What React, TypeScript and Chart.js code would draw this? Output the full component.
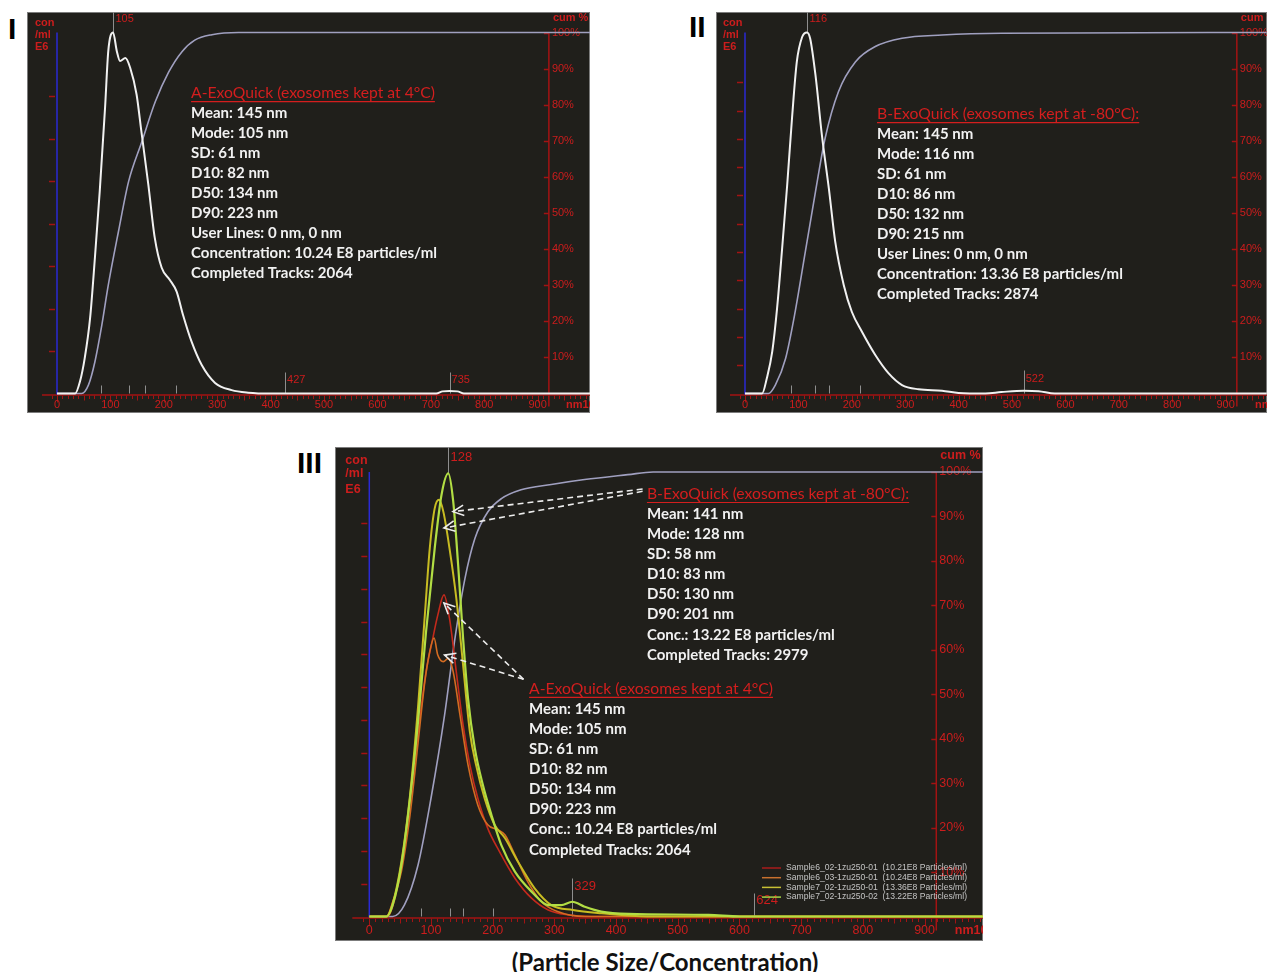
import React, { useEffect, useRef } from "react";
import { Chart, registerables } from "chart.js";

Chart.register(...registerables);

// ---------------- DATA ----------------
const sizeTickValues = [0, 100, 200, 300, 400, 500, 600, 700, 800, 900];
const sizeTickLabels = ["0", "100", "200", "300", "400", "500", "600", "700", "800", "900"];
const cumTickValues = [10, 20, 30, 40, 50, 60, 70, 80, 90, 100];
const cumTickLabels = ["10%", "20%", "30%", "40%", "50%", "60%", "70%", "80%", "90%", "100%"];

// Panel I  (A-ExoQuick, 4°C)
const p1Size = [0, 34, 43, 52, 62, 71, 80, 90, 96, 105, 112, 118, 128, 137, 149, 158, 171, 183, 196, 211, 224, 236, 252, 271, 296, 327, 358, 400, 710, 722, 735, 750, 762, 800, 998];
const p1Conc = [0, 0, 0.28, 0.84, 1.78, 3.2, 4.76, 6.73, 8.06, 8.5, 8.06, 7.83, 7.9, 7.67, 7.04, 6.17, 4.92, 3.67, 2.96, 2.68, 2.4, 1.85, 1.22, 0.67, 0.25, 0.08, 0.02, 0, 0, 0.05, 0.06, 0.05, 0, 0, 0];
const p1CumSize = [0, 46, 59, 71, 84, 96, 115, 134, 159, 184, 209, 234, 258, 290, 340, 998];
const p1Cum = [0, 0, 2.4, 8.8, 19, 30, 44.8, 58.7, 69.8, 80.8, 89, 94.7, 97.9, 99.4, 100, 100];
const p1Mode = 105;
const p1Peaks = [427, 735];
const p1StatMarks = [82, 134, 164, 223];
const p1Header = "A-ExoQuick (exosomes kept at 4°C)";
const p1Lines = ["Mean: 145 nm", "Mode: 105 nm", "SD: 61 nm", "D10: 82 nm", "D50: 134 nm", "D90: 223 nm", "User Lines: 0 nm, 0 nm", "Concentration: 10.24 E8 particles/ml", "Completed Tracks: 2064"];

// Panel II (B-ExoQuick, -80°C)
const p2Size = [0, 32, 41, 51, 60, 69, 79, 88, 97, 107, 116, 122, 132, 144, 157, 169, 185, 200, 219, 244, 269, 294, 325, 369, 400, 450, 480, 522, 550, 580, 977];
const p2Conc = [0, 0, 0.55, 1.48, 3.0, 5.0, 7.37, 9.72, 11.72, 12.6, 12.76, 12.55, 11.25, 9.13, 7.25, 5.36, 3.83, 2.89, 2.18, 1.36, 0.71, 0.3, 0.15, 0.1, 0.02, 0, 0.05, 0.1, 0.08, 0, 0];
const p2CumSize = [0, 44, 57, 76, 94, 113, 132, 150, 175, 207, 244, 294, 369, 481, 977];
const p2Cum = [0, 0, 2.4, 9.7, 22.7, 39.3, 55.9, 70.7, 83.6, 91.9, 96.1, 98.4, 99.3, 99.8, 100];
const p2Mode = 116;
const p2Peaks = [522];
const p2StatMarks = [86, 132, 157, 215];
const p2Header = "B-ExoQuick (exosomes kept at -80°C):";
const p2Lines = ["Mean: 145 nm", "Mode: 116 nm", "SD: 61 nm", "D10: 86 nm", "D50: 132 nm", "D90: 215 nm", "User Lines: 0 nm, 0 nm", "Concentration: 13.36 E8 particles/ml", "Completed Tracks: 2874"];

// Panel III (overlay of four samples)
const p3RedSize = [0, 30, 40, 52, 66, 79, 92, 103, 111, 121, 130, 141, 152, 163, 176, 192, 211, 236, 263, 290, 322, 360, 995];
const p3Red = [0, 0, 0.45, 1.57, 3.5, 5.6, 7.47, 8.5, 9.2, 9.82, 9.1, 7.47, 5.85, 4.63, 3.6, 2.69, 1.98, 1.17, 0.56, 0.2, 0.05, 0, 0];
const p3OrangeSize = [0, 28, 38, 52, 66, 79, 90, 98, 105, 111, 120, 128, 136, 147, 160, 176, 192, 209, 220, 236, 257, 279, 305, 350, 995];
const p3Orange = [0, 0, 0.45, 1.37, 3.1, 5.3, 7.17, 8.09, 8.5, 7.98, 7.78, 7.88, 7.47, 6.15, 4.63, 3.4, 2.8, 2.64, 2.49, 1.88, 1.06, 0.45, 0.15, 0, 0];
const p3YellowSize = [0, 28, 38, 52, 66, 79, 90, 98, 106, 113, 120, 130, 141, 152, 163, 173, 187, 203, 220, 241, 268, 295, 330, 376, 450, 995];
const p3Yellow = [0, 0, 0.4, 1.67, 3.7, 6.4, 9.2, 11.24, 12.46, 12.72, 12.36, 11.24, 9.72, 7.68, 5.64, 4.63, 3.6, 2.8, 2.39, 1.67, 0.86, 0.35, 0.2, 0.1, 0, 0];
const p3GreenSize = [0, 28, 38, 52, 66, 79, 92, 106, 117, 128, 136, 144, 152, 160, 171, 184, 198, 214, 236, 263, 290, 311, 329, 349, 376, 420, 550, 600, 995];
const p3Green = [0, 0, 0.35, 1.57, 3.6, 5.95, 8.7, 11.24, 12.87, 13.53, 12.67, 10.73, 8.5, 6.66, 5.14, 4.02, 3.1, 2.18, 1.37, 0.76, 0.35, 0.35, 0.45, 0.3, 0.15, 0.08, 0.05, 0, 0];
const p3CumSize = [0, 38, 57, 79, 100, 122, 138, 155, 171, 192, 214, 246, 295, 349, 419, 460, 995];
const p3Cum = [0, 0, 2.6, 11.6, 26.6, 45.3, 61.8, 76, 85, 91, 94, 96, 97.2, 98.3, 99.4, 100, 100];
const p3SeriesLabels = [
  "Sample6_02-1zu250-01  (10.21E8 Particles/ml)",
  "Sample6_03-1zu250-01  (10.24E8 Particles/ml)",
  "Sample7_02-1zu250-01  (13.36E8 Particles/ml)",
  "Sample7_02-1zu250-02  (13.22E8 Particles/ml)",
];
const p3Mode = 128;
const p3Peaks = [329, 624];
const p3StatMarks = [83, 130, 152, 201];
const p3HeaderB = "B-ExoQuick (exosomes kept at -80°C):";
const p3LinesB = ["Mean: 141 nm", "Mode: 128 nm", "SD: 58 nm", "D10: 83 nm", "D50: 130 nm", "D90: 201 nm", "Conc.: 13.22 E8 particles/ml", "Completed Tracks: 2979"];
const p3HeaderA = "A-ExoQuick (exosomes kept at 4°C)";
const p3LinesA = ["Mean: 145 nm", "Mode: 105 nm", "SD: 61 nm", "D10: 82 nm", "D50: 134 nm", "D90: 223 nm", "Conc.: 10.24 E8 particles/ml", "Completed Tracks: 2064"];

// ---------------- STYLE ----------------
const BG = "#201f1b";
const RED = "#cc1d1d";
const RED_AXIS = "#a31313";
const HEADER_RED = "#d41e1e";
const BLUE = "#2a2ad4";
const GRAY = "#8e8e8e";
const WHITE = "#f1f1f1";
const CUM = "#a0a0c0";
const AXIS_FONT = '"Liberation Sans", Arial, sans-serif';
const TEXT_FONT = 'Lato, "Open Sans", sans-serif';

const pts = (xs: number[], ys: number[]) => xs.map((x, i) => ({ x, y: ys[i] }));
const maxOf = (a: number[]) => Math.max(...a);

// ---------------- PLUGIN ----------------
function makeDecor(spec: any) {
  return {
    id: "decor_" + spec.id,
    beforeDraw(chart: any) {
      const { ctx, width, height } = chart;
      ctx.save();
      ctx.fillStyle = BG;
      ctx.fillRect(0, 0, width, height);
      ctx.strokeStyle = "#7c7c7c";
      ctx.lineWidth = 1;
      ctx.strokeRect(0.5, 0.5, width - 1, height - 1);
      ctx.restore();
    },
    beforeDatasetsDraw(chart: any) {
      const { ctx, width } = chart;
      const sx = chart.scales.x;
      const sy = chart.scales.y;
      const sc = chart.scales.yCum;
      const base = sy.getPixelForValue(0);
      const x0 = sx.getPixelForValue(0);
      const top = sc.getPixelForValue(100);
      const af = spec.axisFont;
      ctx.save();

      // red size-axis baseline with ticks
      ctx.strokeStyle = RED_AXIS;
      ctx.lineWidth = 1.5;
      ctx.beginPath();
      ctx.moveTo(x0 - spec.baseExt, base + 1.5);
      ctx.lineTo(width, base + 1.5);
      ctx.stroke();
      ctx.lineWidth = 1;
      ctx.beginPath();
      for (let v = -10; v <= sx.max; v += 10) {
        const px = Math.round(sx.getPixelForValue(v)) + 0.5;
        const len = v % 100 === 0 ? 7 : v % 50 === 0 ? 5 : 3.5;
        ctx.moveTo(px, base + 2);
        ctx.lineTo(px, base + 2 + len);
      }
      ctx.stroke();

      ctx.fillStyle = RED;
      ctx.font = `${af}px ${AXIS_FONT}`;
      ctx.textAlign = "center";
      ctx.textBaseline = "middle";
      sizeTickValues.forEach((v, i) => ctx.fillText(sizeTickLabels[i], sx.getPixelForValue(v), base + spec.xLabelDy));
      ctx.font = `bold ${af}px ${AXIS_FONT}`;
      ctx.textAlign = "left";
      ctx.fillText(spec.unitLabel, sx.getPixelForValue(spec.unitAt), base + spec.xLabelDy);

      // left concentration axis
      ctx.strokeStyle = BLUE;
      ctx.lineWidth = 1.5;
      ctx.beginPath();
      ctx.moveTo(x0, top);
      ctx.lineTo(x0, base + 1);
      ctx.stroke();
      ctx.strokeStyle = RED_AXIS;
      ctx.beginPath();
      for (let k = 1; k <= spec.concTicks; k++) {
        const y = Math.round(sy.getPixelForValue(k)) + 0.5;
        ctx.moveTo(x0 - 8, y);
        ctx.lineTo(x0 - 2, y);
      }
      ctx.stroke();
      ctx.fillStyle = RED;
      ctx.font = `bold ${spec.conFont}px ${AXIS_FONT}`;
      ctx.textAlign = "left";
      spec.conLabels.forEach((c: any) => ctx.fillText(c.t, x0 - spec.conDx, top + c.dy));

      // right cumulative axis
      const xr = sx.getPixelForValue(spec.cumAxisAt);
      ctx.strokeStyle = RED_AXIS;
      ctx.lineWidth = 1.5;
      ctx.beginPath();
      ctx.moveTo(xr, top);
      ctx.lineTo(xr, base + spec.cumAxisExt);
      for (const v of cumTickValues) {
        const y = Math.round(sc.getPixelForValue(v)) + 0.5;
        ctx.moveTo(xr - 5, y);
        ctx.lineTo(xr, y);
      }
      ctx.stroke();
      ctx.font = `${af}px ${AXIS_FONT}`;
      cumTickValues.forEach((v, i) => ctx.fillText(cumTickLabels[i], xr + 3, sc.getPixelForValue(v)));
      ctx.font = `bold ${af}px ${AXIS_FONT}`;
      ctx.fillText("cum %", xr + 4, top + spec.cumTitleDy);

      // small statistic marks on baseline
      ctx.strokeStyle = GRAY;
      ctx.lineWidth = 1;
      ctx.beginPath();
      spec.statMarks.forEach((v: number) => {
        const px = Math.round(sx.getPixelForValue(v)) + 0.5;
        ctx.moveTo(px, base - 8);
        ctx.lineTo(px, base);
      });
      // mode line
      const mx = Math.round(sx.getPixelForValue(spec.mode)) + 0.5;
      ctx.moveTo(mx, 0);
      ctx.lineTo(mx, sy.getPixelForValue(spec.modePeak));
      // peak markers
      spec.peaks.forEach((p: any) => {
        const px = Math.round(sx.getPixelForValue(p.v)) + 0.5;
        ctx.moveTo(px, base - p.h);
        ctx.lineTo(px, base);
      });
      ctx.stroke();
      ctx.fillStyle = RED;
      ctx.font = `${spec.markFont}px ${AXIS_FONT}`;
      ctx.fillText(String(spec.mode), mx + 2, spec.modeLabelY);
      spec.peaks.forEach((p: any) => ctx.fillText(String(p.v), sx.getPixelForValue(p.v) + 2, base + p.ly));
      ctx.restore();
    },
    afterDatasetsDraw(chart: any) {
      const { ctx } = chart;
      const sx = chart.scales.x;
      const sy = chart.scales.y;
      const sc = chart.scales.yCum;
      ctx.save();
      // arrows
      (spec.arrows || []).forEach((a: any) => {
        const fx = sx.getPixelForValue(a.from[0]);
        const fy = sy.getPixelForValue(a.from[1]);
        const tx = sx.getPixelForValue(a.to[0]);
        const ty = sy.getPixelForValue(a.to[1]);
        ctx.strokeStyle = "#ececec";
        ctx.lineWidth = 1.6;
        ctx.setLineDash([6, 4]);
        ctx.beginPath();
        ctx.moveTo(fx, fy);
        ctx.lineTo(tx, ty);
        ctx.stroke();
        ctx.setLineDash([]);
        const ang = Math.atan2(fy - ty, fx - tx);
        ctx.beginPath();
        ctx.moveTo(tx + 12 * Math.cos(ang + 0.45), ty + 12 * Math.sin(ang + 0.45));
        ctx.lineTo(tx, ty);
        ctx.lineTo(tx + 12 * Math.cos(ang - 0.45), ty + 12 * Math.sin(ang - 0.45));
        ctx.stroke();
      });
      // text blocks
      ctx.textAlign = "left";
      ctx.textBaseline = "middle";
      spec.texts.forEach((tb: any) => {
        const tx = sx.getPixelForValue(tb.atX);
        const ty = sc.getPixelForValue(tb.atCum);
        ctx.font = `${spec.headerSize}px ${TEXT_FONT}`;
        ctx.fillStyle = HEADER_RED;
        ctx.fillText(tb.header, tx, ty);
        const w = ctx.measureText(tb.header).width;
        ctx.strokeStyle = HEADER_RED;
        ctx.lineWidth = 1.2;
        ctx.beginPath();
        ctx.moveTo(tx, ty + 8.5);
        ctx.lineTo(tx + w, ty + 8.5);
        ctx.stroke();
        ctx.font = `bold ${spec.textSize}px ${TEXT_FONT}`;
        ctx.fillStyle = WHITE;
        tb.lines.forEach((l: string, i: number) => ctx.fillText(l, tx, ty + (i + 1) * spec.lineGap));
      });
      // legend
      if (spec.legend) {
        const L = spec.legend;
        ctx.font = `${L.font}px ${AXIS_FONT}`;
        ctx.fillStyle = "#c4c4c4";
        let row = 0;
        chart.data.datasets.forEach((ds: any) => {
          if (!ds.legendLabel) return;
          const y = L.y + row * L.dy;
          ctx.strokeStyle = ds.legendColor || ds.borderColor;
          ctx.lineWidth = 1.5;
          ctx.beginPath();
          ctx.moveTo(L.x, y);
          ctx.lineTo(L.x + L.len, y);
          ctx.stroke();
          ctx.fillText(ds.legendLabel, L.x + L.len + L.gap, y);
          row++;
        });
      }
      ctx.restore();
    },
  };
}

// ---------------- PANELS ----------------
const conSmall = [
  { t: "con", dy: -9.5 },
  { t: "/ml", dy: 2.5 },
  { t: "E6", dy: 14 },
];

const panelI = {
  id: "I",
  left: 27, top: 12, width: 563, height: 401,
  pad: { left: 30, top: 20.5, right: 0, bottom: 19.5 },
  xMax: 998, concMax: 8.5, concTicks: 7, cumAxisAt: 921,
  axisFont: 11, xLabelDy: 11.5, unitLabel: "nm1000", unitAt: 953, baseExt: 15,
  conFont: 11, conDx: 22, conLabels: conSmall, cumTitleDy: -14.5, cumAxisExt: 13,
  statMarks: p1StatMarks, mode: p1Mode, modePeak: maxOf(p1Conc), modeLabelY: 6.5, markFont: 11,
  peaks: p1Peaks.map((v) => ({ v, h: 21, ly: -13.5 })),
  textSize: 15, headerSize: 15.7, lineGap: 20,
  texts: [{ atX: 251, atCum: 83.2, header: p1Header, lines: p1Lines }],
  datasets: [
    { data: pts(p1Size, p1Conc), yAxisID: "y", borderColor: WHITE, borderWidth: 2, order: 1 },
    { data: pts(p1CumSize, p1Cum), yAxisID: "yCum", borderColor: CUM, borderWidth: 1.6, order: 2 },
  ],
};

const panelII = {
  id: "II",
  left: 716, top: 12, width: 551, height: 401,
  pad: { left: 29, top: 20.5, right: 0, bottom: 19.5 },
  xMax: 977.5, concMax: 12.76, concTicks: 11, cumAxisAt: 921,
  axisFont: 11, xLabelDy: 11.5, unitLabel: "nm1000", unitAt: 955, baseExt: 15,
  conFont: 11, conDx: 22, conLabels: conSmall, cumTitleDy: -14.5, cumAxisExt: 13,
  statMarks: p2StatMarks, mode: p2Mode, modePeak: maxOf(p2Conc), modeLabelY: 6.5, markFont: 11,
  peaks: p2Peaks.map((v) => ({ v, h: 23, ly: -15 })),
  textSize: 15, headerSize: 15.7, lineGap: 20,
  texts: [{ atX: 247.2, atCum: 77.4, header: p2Header, lines: p2Lines }],
  datasets: [
    { data: pts(p2Size, p2Conc), yAxisID: "y", borderColor: WHITE, borderWidth: 2, order: 1 },
    { data: pts(p2CumSize, p2Cum), yAxisID: "yCum", borderColor: CUM, borderWidth: 1.6, order: 2 },
  ],
};

const panelIII = {
  id: "III",
  left: 335, top: 447, width: 648, height: 494,
  pad: { left: 34.3, top: 25, right: 0, bottom: 24.5 },
  xMax: 994.7, concMax: 13.57, concTicks: 12, cumAxisAt: 919,
  axisFont: 12.5, xLabelDy: 14.5, unitLabel: "nm1000", unitAt: 949, baseExt: 17,
  conFont: 12.5, conDx: 24,
  conLabels: [
    { t: "con", dy: -11 },
    { t: "/ml", dy: 2 },
    { t: "E6", dy: 18 },
  ],
  cumTitleDy: -16, cumAxisExt: 14,
  statMarks: p3StatMarks, mode: p3Mode, modePeak: maxOf(p3Green), modeLabelY: 10, markFont: 13,
  peaks: [
    { v: p3Peaks[0], h: 38, ly: -30 },
    { v: p3Peaks[1], h: 23, ly: -16.5 },
  ],
  textSize: 15, headerSize: 15.7, lineGap: 20.1,
  texts: [
    { atX: 450, atCum: 95.05, header: p3HeaderB, lines: p3LinesB },
    { atX: 259, atCum: 51.2, header: p3HeaderA, lines: p3LinesA },
  ],
  arrows: [
    { from: [443, 13.05], to: [135.6, 12.36] },
    { from: [443, 12.98], to: [121, 11.86] },
    { from: [250, 7.24], to: [121, 9.57] },
    { from: [250, 7.24], to: [122, 7.98] },
  ],
  legend: { x: 427, y: 421, dy: 9.7, len: 19, gap: 5, font: 8.6 },
  datasets: [
    { data: pts(p3RedSize, p3Red), yAxisID: "y", borderColor: "#c42a1c", legendColor: "#a81c1c", borderWidth: 1.6, order: 4, legendLabel: p3SeriesLabels[0] },
    { data: pts(p3OrangeSize, p3Orange), yAxisID: "y", borderColor: "#d46c22", legendColor: "#c8702e", borderWidth: 1.6, order: 3, legendLabel: p3SeriesLabels[1] },
    { data: pts(p3YellowSize, p3Yellow), yAxisID: "y", borderColor: "#c8bc22", legendColor: "#c8c034", borderWidth: 2, order: 2, legendLabel: p3SeriesLabels[2] },
    { data: pts(p3GreenSize, p3Green), yAxisID: "y", borderColor: "#b2de44", legendColor: "#a6d444", borderWidth: 2.2, order: 1, legendLabel: p3SeriesLabels[3] },
    { data: pts(p3CumSize, p3Cum), yAxisID: "yCum", borderColor: CUM, borderWidth: 1.6, order: 5 },
  ],
};

function Panel({ spec }: { spec: any }) {
  const ref = useRef<HTMLCanvasElement | null>(null);
  useEffect(() => {
    if (!ref.current) return;
    const chart = new Chart(ref.current, {
      type: "line",
      data: {
        datasets: spec.datasets.map((d: any) => ({
          ...d,
          pointRadius: 0,
          fill: false,
          tension: 0.4,
          cubicInterpolationMode: "monotone",
          clip: false,
        })),
      },
      options: {
        animation: false,
        responsive: false,
        maintainAspectRatio: false,
        events: [],
        layout: { padding: spec.pad },
        plugins: {
          legend: { display: false },
          tooltip: { enabled: false },
          title: { display: false },
        },
        scales: {
          x: { type: "linear", min: 0, max: spec.xMax, display: false },
          y: { type: "linear", min: 0, max: spec.concMax, display: false },
          yCum: { type: "linear", min: 0, max: 100, display: false },
        },
      } as any,
      plugins: [makeDecor(spec)],
    } as any);
    return () => chart.destroy();
  }, [spec]);
  return (
    <canvas
      ref={ref}
      width={spec.width}
      height={spec.height}
      style={{ position: "absolute", left: spec.left, top: spec.top, width: spec.width, height: spec.height }}
    />
  );
}

const numeral: React.CSSProperties = {
  position: "absolute",
  fontFamily: '"Liberation Sans", Arial, sans-serif',
  fontWeight: 700,
  fontSize: 30,
  lineHeight: "30px",
  color: "#000",
};

export default function App() {
  return (
    <div style={{ position: "absolute", left: 0, top: 0, width: 1267, height: 972, background: "#fff", overflow: "hidden" }}>
      <div style={{ ...numeral, left: 8, top: 14 }}>I</div>
      <div style={{ ...numeral, left: 689, top: 12 }}>II</div>
      <div style={{ ...numeral, left: 297, top: 448 }}>III</div>
      <Panel spec={panelI} />
      <Panel spec={panelII} />
      <Panel spec={panelIII} />
      <div
        style={{
          position: "absolute",
          left: 365,
          width: 600,
          top: 947,
          textAlign: "center",
          fontFamily: TEXT_FONT,
          fontWeight: 700,
          fontSize: 24,
          lineHeight: "30px",
          color: "#111",
          whiteSpace: "nowrap",
        }}
      >
        (Particle Size/Concentration)
      </div>
    </div>
  );
}
